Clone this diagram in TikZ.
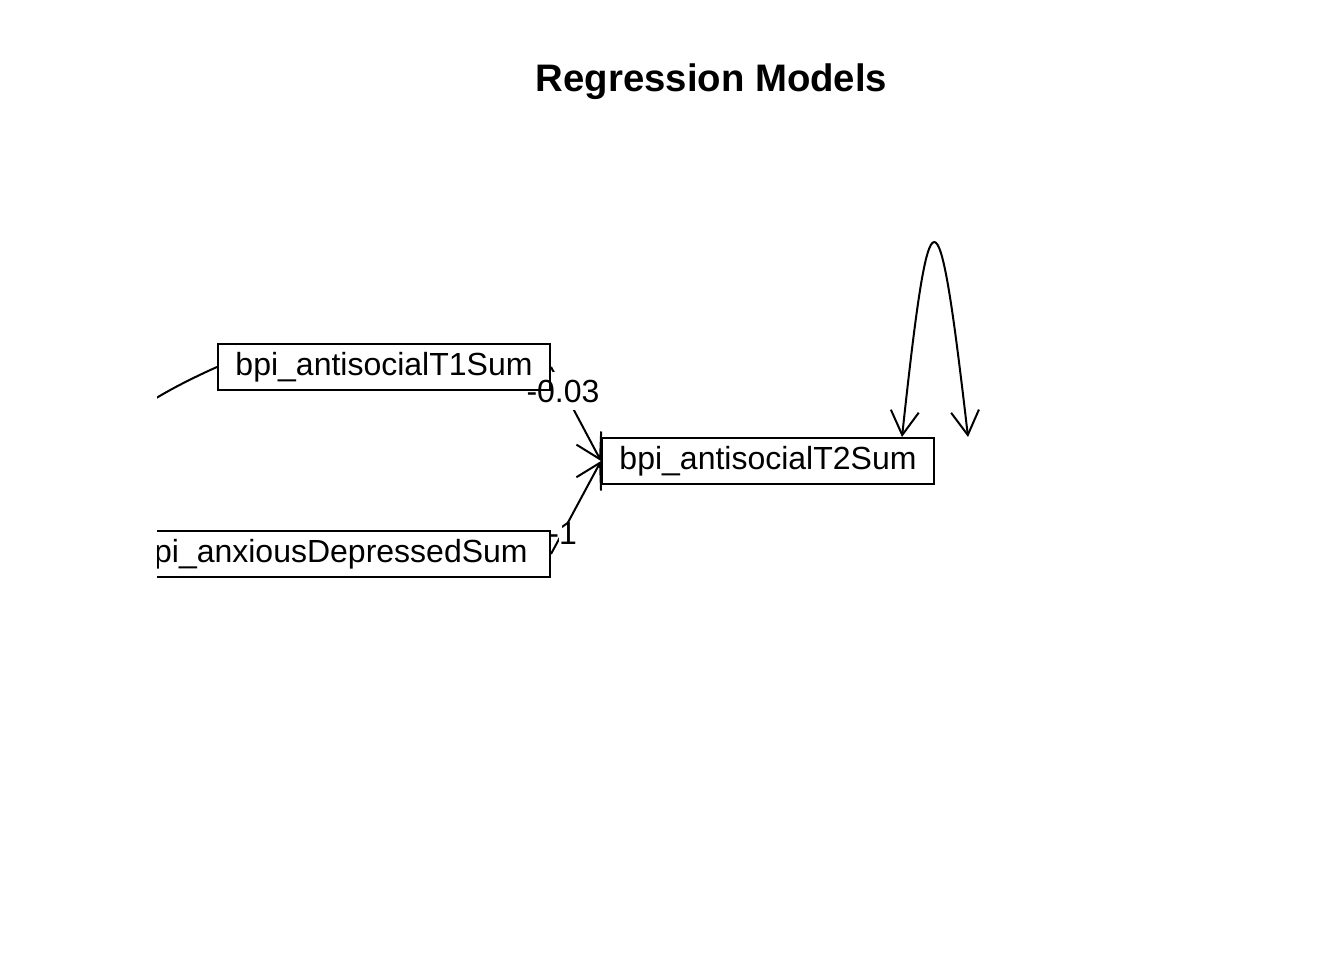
\documentclass[tikz,border=0pt]{standalone}
\usepackage{fontspec}
\setmainfont{Liberation Sans}
\usetikzlibrary{arrows.meta}
\pgfdeclarelayer{bglayer}
\pgfdeclarelayer{edgelayer}
\pgfsetlayers{bglayer,edgelayer,main}
\begin{document}
\begin{tikzpicture}[x=0.75pt,y=-0.75pt,
  var/.style={draw, line width=1.5pt, minimum height=34.5pt, inner sep=0pt, font=\fontsize{24}{28}\selectfont},
  lbl/.style={font=\fontsize{24}{28}\selectfont, fill=white, inner xsep=0pt},
  barb/.tip={Straight Barb[length=18pt,width=21pt,line width=1.5pt]},
  regedge/.style={line width=1.5pt, -barb},
  covedge/.style={line width=1.5pt},
  loopedge/.style={line width=1.5pt, barb-barb},
]
\useasboundingbox (0,0) rectangle (1344,960);
\begin{pgfonlayer}{bglayer}
\fill[white] (0,0) rectangle (1344,960);
\end{pgfonlayer}
\node[font=\bfseries\fontsize{28.75}{32}\selectfont, anchor=base] (title) at (711.5,91) {Regression Models};
\begin{scope}
\clip (157,0) rectangle (1344,960);
\node[var, minimum width=249pt] (T1) at (384,367) {bpi\_antisocialT1Sum};
\node[var, minimum width=249pt] (T2) at (768,461) {bpi\_antisocialT2Sum};
\node[var, minimum width=327pt] (anx) at (332,554) {bpi\_anxiousDepressedSum};
\end{scope}
\begin{pgfonlayer}{edgelayer}
\begin{scope}
\clip (157,0) rectangle (1344,960);
\draw[covedge] (T1.west) .. controls (98,420) and (40,480) .. (anx.west);
\draw[regedge] (T1.east) -- (T2.west);
\draw[regedge] (anx.east) -- (T2.west);
\draw[loopedge] ([xshift=-24.75pt]T2.north east) .. controls (930,178) and (938,178) .. ([xshift=24.75pt]T2.north east);
\node[lbl, inner ysep=6pt] (l1) at (563,391) {-0.03};
\node[lbl, inner sep=0pt] (l2) at (568,533.5) {\llap{-}1};
\end{scope}
\end{pgfonlayer}
\end{tikzpicture}
\end{document}
